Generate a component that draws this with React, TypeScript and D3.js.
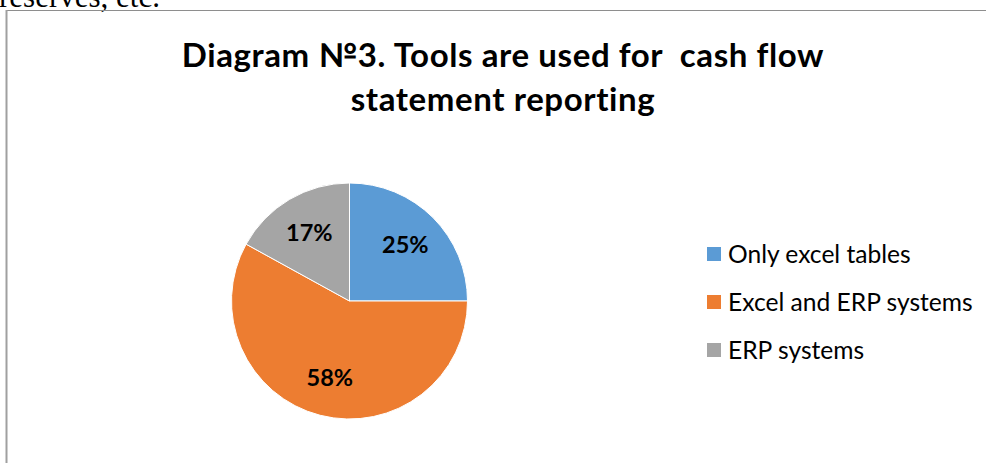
import React from "react";
import * as d3 from "d3";

const categories = ["Only excel tables", "Excel and ERP systems", "ERP systems"];
const values = [25, 58, 17];
const colors = ["#5B9BD5", "#ED7D31", "#A5A5A5"];
const titleLines = ["Diagram №3. Tools are used for  cash flow", "statement reporting"];
const pageTextAbove = "reserves, etc.";

const W = 986;
const H = 463;

export default function App() {
  const cx = 349.5;
  const cy = 301;
  const r = 118;
  const pie = d3.pie<number>().sort(null).value((d) => d)(values);
  const arc = d3.arc<d3.PieArcDatum<number>>().innerRadius(0).outerRadius(r);
  const labelArc = d3.arc<d3.PieArcDatum<number>>().innerRadius(79).outerRadius(79);
  const total = d3.sum(values);
  const fmt = (v: number) => `${Math.round((v / total) * 100)}%`;
  const legendY = d3.scalePoint<string>().domain(categories).range([254, 350]);

  return (
    <svg
      width={W}
      height={H}
      viewBox={`0 0 ${W} ${H}`}
      style={{ position: "absolute", left: 0, top: 0, background: "#fff" }}
    >
      <rect x={0} y={0} width={W} height={H} fill="#fff" />
      <text x={-1} y={7} fontFamily="'Liberation Serif', serif" fontSize={31} fill="#000">
        {pageTextAbove}
      </text>
      <line x1={6} x2={W} y1={10.5} y2={10.5} stroke="#8e8e8e" strokeWidth={1} />
      <line x1={6.5} x2={6.5} y1={10} y2={H} stroke="#a0a0a0" strokeWidth={2} />

      {titleLines.map((t, i) => (
        <text
          key={i}
          x={503}
          y={67 + i * 44}
          textAnchor="middle"
          fontFamily="Lato, 'Open Sans', sans-serif"
          fontWeight={700}
          fontSize={33}
          letterSpacing={0.6}
          fill="#000"
          style={{ whiteSpace: "pre" }}
          xmlSpace="preserve"
        >
          {t}
        </text>
      ))}

      <g transform={`translate(${cx},${cy})`}>
        {pie.map((p, i) => (
          <path key={i} d={arc(p) || ""} fill={colors[i]} stroke="#fff" strokeWidth={1} />
        ))}
        {pie.map((p, i) => {
          const [lx, ly] = labelArc.centroid(p);
          return (
            <text
              key={"l" + i}
              x={lx}
              y={ly}
              dy="0.35em"
              textAnchor="middle"
              fontFamily="Lato, 'Open Sans', sans-serif"
              fontWeight={700}
              fontSize={23.5}
              fill="#000"
            >
              {fmt(p.value)}
            </text>
          );
        })}
      </g>

      {categories.map((c, i) => {
        const y = legendY(c) as number;
        return (
          <g key={c}>
            <rect x={707} y={y - 7} width={14} height={14} fill={colors[i]} />
            <text
              x={728}
              y={y}
              dy="0.36em"
              fontFamily="Lato, 'Open Sans', sans-serif"
              fontSize={24.6}
              fill="#000"
            >
              {c}
            </text>
          </g>
        );
      })}
    </svg>
  );
}
